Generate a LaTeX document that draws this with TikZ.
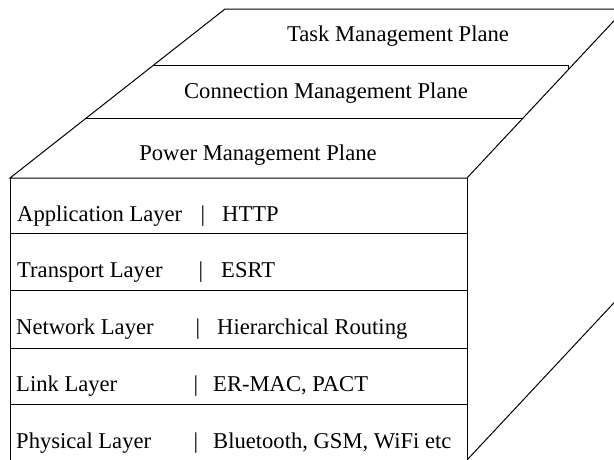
\documentclass[tikz,border=0pt]{standalone}
\usepackage{fontspec}
\setmainfont{Liberation Serif}
\begin{document}
\begin{tikzpicture}[x=1pt,y=-1pt,
  edge/.style={line width=1pt, black, line join=miter},
  lbl/.style={inner sep=0pt, font=\fontsize{22.6}{27}\selectfont},
  plane/.style={lbl, anchor=base},
  layer/.style={lbl, anchor=base west},
  bar/.style={lbl, anchor=base},
]
\useasboundingbox (0,0) rectangle (614,459);
\clip (0,0) rectangle (614,459);
% cube corners
\coordinate (TL) at (225,9);
\coordinate (TR) at (625,9);
\coordinate (FL) at (10,178);
\coordinate (FR) at (467,178);
\coordinate (BL) at (10,470);
\coordinate (BR) at (467,460);
\coordinate (BB) at (625,291);
% plane separators
\coordinate (P1L) at (153.8,65);
\coordinate (P1R) at (568,65);
\coordinate (P1T) at (568,70);
\coordinate (P2L) at (86.3,118);
\coordinate (P2R) at (523,118);
% layer separators
\foreach \i/\y in {1/233,2/290,3/348,4/404}{
  \coordinate (L\i l) at (10,\y);
  \coordinate (L\i r) at (467,\y);
}
\draw[edge] (FL) -- (TL) -- (TR) -- (FR) -- cycle;
\draw[edge] (P1L) -- (P1R) -- (P1T);
\draw[edge] (P2L) -- (P2R);
\draw[edge] (FL) -- (BL);
\draw[edge] (FR) -- (BR);
\draw[edge] (BR) -- (BB);
\foreach \i in {1,...,4}{
  \draw[edge] (L\i l) -- (L\i r);
}
% plane labels
\node[plane] (task) at (398,41) {Task Management Plane};
\node[plane] (conn) at (326,98) {Connection Management Plane};
\node[plane] (power) at (258,160) {Power Management Plane};
% layers
\node[layer] (app) at (17,221) {Application Layer};
\node[bar] (appbar) at (203,221) {|};
\node[layer] (appp) at (222,221) {HTTP};
\node[layer] (trn) at (17,277) {Transport Layer};
\node[bar] (trnbar) at (201,277) {|};
\node[layer] (trnp) at (221,277) {ESRT};
\node[layer] (net) at (16,334) {Network Layer};
\node[bar] (netbar) at (198,334) {|};
\node[layer] (netp) at (217,334) {Hierarchical Routing};
\node[layer] (lnk) at (16,391) {Link Layer};
\node[bar] (lnkbar) at (196,391) {|};
\node[layer] (lnkp) at (213,391) {ER-MAC, PACT};
\node[layer] (phy) at (16,448) {Physical Layer};
\node[bar] (phybar) at (196,448) {|};
\node[layer] (phyp) at (213,448) {Bluetooth, GSM, WiFi etc};
\end{tikzpicture}
\end{document}
